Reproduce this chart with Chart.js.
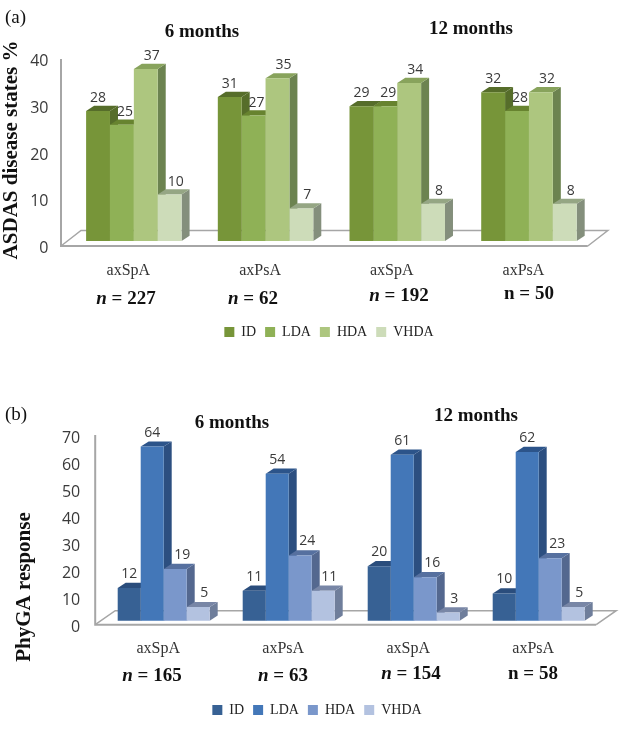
<!DOCTYPE html>
<html>
<head>
<meta charset="utf-8">
<script src="https://cdn.jsdelivr.net/npm/chart.js@4"></script>
<style>
html, body { margin: 0; padding: 0; background: #fff; overflow: hidden; width: 622px; height: 730px; }
canvas { position: absolute; left: 0; }
#asdasChart { top: 0; }
#phygaChart { top: 353px; }
</style>
</head>
<body>
<canvas id="asdasChart" width="622" height="353"></canvas>
<canvas id="phygaChart" width="622" height="377"></canvas>
<script>
const categories = ["axSpA", "axPsA", "axSpA", "axPsA"];
const stateNames = ["ID", "LDA", "HDA", "VHDA"];

const asdasId = [28, 31, 29, 32];
const asdasLda = [25, 27, 29, 28];
const asdasHda = [37, 35, 34, 32];
const asdasVhda = [10, 7, 8, 8];
const asdasN = ["227", "62", "192", "50"];
const asdasTicks = [0, 10, 20, 30, 40];

const phygaId = [12, 11, 20, 10];
const phygaLda = [64, 54, 61, 62];
const phygaHda = [19, 24, 16, 23];
const phygaVhda = [5, 11, 3, 5];
const phygaN = ["165", "63", "154", "58"];
const phygaTicks = [0, 10, 20, 30, 40, 50, 60, 70];

const greens = ["#779539", "#8fb156", "#adc67f", "#cddcb9"];
const greenTops = ["#566d2a", "#67832f", "#88a35c", "#95a684"];
const greenSides = ["#566d2a", "#67832f", "#6c8350", "#848f7c"];
const blues = ["#376194", "#4377b8", "#7a97cb", "#b3c2e0"];
const blueTops = ["#2a4d7c", "#2c548a", "#56709f", "#7886a6"];
const blueSides = ["#2a4d7c", "#2c4f80", "#54688f", "#6f7e9b"];

const labelFont = '"Liberation Serif", serif';
const valueFont = '"Open Sans", sans-serif';

// side and top faces of the bars, the fronts are the normal chart.js bars
const faces3d = {
    id: "faces3d",
    beforeDatasetsDraw(chart, args, opts) {
        const ctx = chart.ctx;
        const dx = opts.dx, dy = opts.dy;
        const a = chart.chartArea;
        const f = opts.floor;
        // floor
        ctx.save();
        ctx.strokeStyle = "#a6a6a6";
        ctx.lineWidth = 1.5;
        ctx.beginPath();
        ctx.moveTo(a.left + f.left, a.bottom);
        ctx.lineTo(a.left + f.left + f.skew, a.bottom - f.depth);
        ctx.lineTo(a.right + f.right + f.skew, a.bottom - f.depth);
        ctx.lineTo(a.right + f.right, a.bottom);
        ctx.stroke();
        ctx.lineWidth = 2;
        ctx.beginPath();
        ctx.moveTo(a.left + f.left, a.top);
        ctx.lineTo(a.left + f.left, a.bottom);
        ctx.lineTo(a.right + f.right, a.bottom);
        ctx.stroke();
        chart.data.datasets.forEach((ds, d) => {
            chart.getDatasetMeta(d).data.forEach(bar => {
                const right = bar.x + bar.width / 2;
                ctx.fillStyle = ds.sideColor;
                ctx.beginPath();
                ctx.moveTo(right, bar.y);
                ctx.lineTo(right + dx, bar.y - dy);
                ctx.lineTo(right + dx, bar.base - dy);
                ctx.lineTo(right, bar.base);
                ctx.closePath();
                ctx.fill();
            });
        });
        chart.data.datasets.forEach((ds, d) => {
            chart.getDatasetMeta(d).data.forEach(bar => {
                const left = bar.x - bar.width / 2;
                const right = bar.x + bar.width / 2;
                ctx.fillStyle = ds.topColor;
                ctx.beginPath();
                ctx.moveTo(left, bar.y);
                ctx.lineTo(left + dx, bar.y - dy);
                ctx.lineTo(right + dx, bar.y - dy);
                ctx.lineTo(right, bar.y);
                ctx.closePath();
                ctx.fill();
            });
        });
        ctx.restore();
    },
    afterDatasetsDraw(chart, args, opts) {
        const ctx = chart.ctx;
        ctx.save();
        ctx.font = "14px " + valueFont;
        ctx.fillStyle = "#3a3a3a";
        ctx.textAlign = "center";
        ctx.textBaseline = "middle";
        chart.data.datasets.forEach((ds, d) => {
            chart.getDatasetMeta(d).data.forEach((bar, i) => {
                ctx.fillText(ds.data[i], bar.x + opts.labelShift[d], bar.y - opts.labelGap);
            });
        });
        ctx.restore();
    }
};

// the legend sits off centre in the reference, chart.js centres it on the canvas
const legendShift = {
    id: "legendShift",
    afterLayout(chart, args, opts) {
        const lg = chart.legend;
        const shift = opts.center - (lg.left + lg.right) / 2;
        lg.left += shift;
        lg.right += shift;
    }
};

// panel letter, period headings, n = ... row, y axis title
const extraText = {
    id: "extraText",
    afterDraw(chart, args, opts) {
        const ctx = chart.ctx;
        const nudge = 1.5; // serif text sits a bit high with middle baseline
        ctx.save();
        ctx.textBaseline = "middle";
        ctx.fillStyle = "#111";

        ctx.font = "19px " + labelFont;
        ctx.textAlign = "left";
        ctx.fillText(opts.panel, 5, opts.panelY + nudge);

        ctx.font = "bold 19px " + labelFont;
        ctx.textAlign = "center";
        opts.periods.forEach(p => ctx.fillText(p.text, p.x, p.y + nudge));

        opts.n.forEach((value, i) => {
            const plainN = opts.plainN === i;
            const pos = opts.nPos[i];
            const rest = " = " + value;
            ctx.font = (plainN ? "bold " : "italic bold ") + "19px " + labelFont;
            const w1 = ctx.measureText("n").width;
            ctx.font = "bold 19px " + labelFont;
            const w2 = ctx.measureText(rest).width;
            const x = pos.x - (w1 + w2) / 2;
            ctx.textAlign = "left";
            ctx.font = (plainN ? "bold " : "italic bold ") + "19px " + labelFont;
            ctx.fillText("n", x, pos.y + nudge);
            ctx.font = "bold 19px " + labelFont;
            ctx.fillText(rest, x + w1, pos.y + nudge);
        });

        ctx.translate(opts.title.x, opts.title.y);
        ctx.rotate(-Math.PI / 2);
        ctx.textAlign = "center";
        ctx.font = "bold " + opts.title.size + "px " + labelFont;
        ctx.fillText(opts.title.text, 0, 0);
        ctx.restore();
    }
};

function makePanel(canvasId, o) {
    const hgt = o.bottom - o.top;
    const barsMin = -o.baseGap / o.pxPerUnit;
    const topTick = o.ticks[o.ticks.length - 1];
    // tick labels come out high with Open Sans, slide the tick scale down a little
    const tickSlide = o.tickNudge * topTick / hgt;
    return new Chart(canvasId, {
        type: "bar",
        data: {
            labels: categories,
            datasets: o.series.map((s, i) => ({
                label: stateNames[i],
                data: s,
                yAxisID: "yBars",
                backgroundColor: o.fronts[i],
                topColor: o.tops[i],
                sideColor: o.sides[i],
                categoryPercentage: o.groupShare,
                barPercentage: 1
            }))
        },
        plugins: [faces3d, legendShift, extraText],
        options: {
            responsive: false,
            animation: false,
            events: [],
            layout: {
                padding: { top: o.top, bottom: o.padBottom, left: 0, right: o.padRight }
            },
            scales: {
                x: {
                    grid: { display: false, drawTicks: false },
                    border: { display: false },
                    afterFit(scale) { scale.height = o.xHeight; },
                    ticks: {
                        autoSkip: false,
                        maxRotation: 0,
                        padding: o.xPad,
                        labelOffset: o.xLabelOffset,
                        color: "#333",
                        font: { family: labelFont, size: 16 }
                    }
                },
                y: {
                    position: "left",
                    min: tickSlide,
                    max: topTick + tickSlide,
                    grid: { display: false, drawTicks: false },
                    border: { display: false },
                    afterFit(scale) { scale.width = o.yWidth; },
                    afterBuildTicks(scale) { scale.ticks = o.ticks.map(v => ({ value: v })); },
                    ticks: {
                        padding: o.yPad,
                        color: "#3a3a3a",
                        font: { family: valueFont, size: 16 }
                    }
                },
                yBars: {
                    display: false,
                    min: barsMin,
                    max: barsMin + hgt / o.pxPerUnit
                }
            },
            plugins: {
                tooltip: { enabled: false },
                title: { display: false },
                legend: {
                    display: true,
                    position: "bottom",
                    labels: {
                        boxWidth: 10,
                        boxHeight: 10,
                        padding: 9,
                        color: "#222",
                        font: { family: labelFont, size: 14 }
                    }
                },
                legendShift: { center: o.legendCenter },
                faces3d: { dx: 8, dy: 5.2, labelGap: o.labelGap, labelShift: o.labelShift, floor: o.floor },
                extraText: o.text
            }
        }
    });
}

const asdasChart = makePanel("asdasChart", {
    series: [asdasId, asdasLda, asdasHda, asdasVhda],
    ticks: asdasTicks,
    fronts: greens, tops: greenTops, sides: greenSides,
    top: 59, bottom: 246.5, baseGap: 5, pxPerUnit: 4.66, tickNudge: 2.5,
    groupShare: 0.725,
    yWidth: 68, padRight: 27.2, padBottom: 4, legendCenter: 329,
    xHeight: 70, xPad: 15, xLabelOffset: -5.5, yPad: 19.5,
    labelGap: 13, labelShift: [0, 3, 6, 6],
    floor: { left: -7, right: -7, skew: 20, depth: 15.5 },
    text: {
        panel: "(a)", panelY: 17,
        periods: [{ text: "6 months", x: 202, y: 31 }, { text: "12 months", x: 471, y: 28 }],
        n: asdasN, plainN: 3,
        nPos: [{ x: 126, y: 298 }, { x: 253, y: 298 }, { x: 399, y: 295 }, { x: 529, y: 293 }],
        title: { text: "ASDAS disease states %", size: 21, x: 12, y: 150 }
    }
});

const phygaChart = makePanel("phygaChart", {
    series: [phygaId, phygaLda, phygaHda, phygaVhda],
    ticks: phygaTicks,
    fronts: blues, tops: blueTops, sides: blueSides,
    top: 82, bottom: 271.7, baseGap: 4, pxPerUnit: 2.72, tickNudge: 3,
    groupShare: 0.736,
    yWidth: 101.2, padRight: 20.8, padBottom: 3, legendCenter: 317,
    xHeight: 69.3, xPad: 14, xLabelOffset: -5.5, yPad: 21,
    labelGap: 14, labelShift: [0, 0, 7, 6],
    floor: { left: -6, right: -5, skew: 20, depth: 14 },
    text: {
        panel: "(b)", panelY: 61,
        periods: [{ text: "6 months", x: 232, y: 69 }, { text: "12 months", x: 476, y: 62 }],
        n: phygaN, plainN: 3,
        nPos: [{ x: 152, y: 322 }, { x: 283, y: 322 }, { x: 411, y: 320 }, { x: 533, y: 320 }],
        title: { text: "PhyGA response", size: 21, x: 25, y: 234 }
    }
});
</script>
</body>
</html>
